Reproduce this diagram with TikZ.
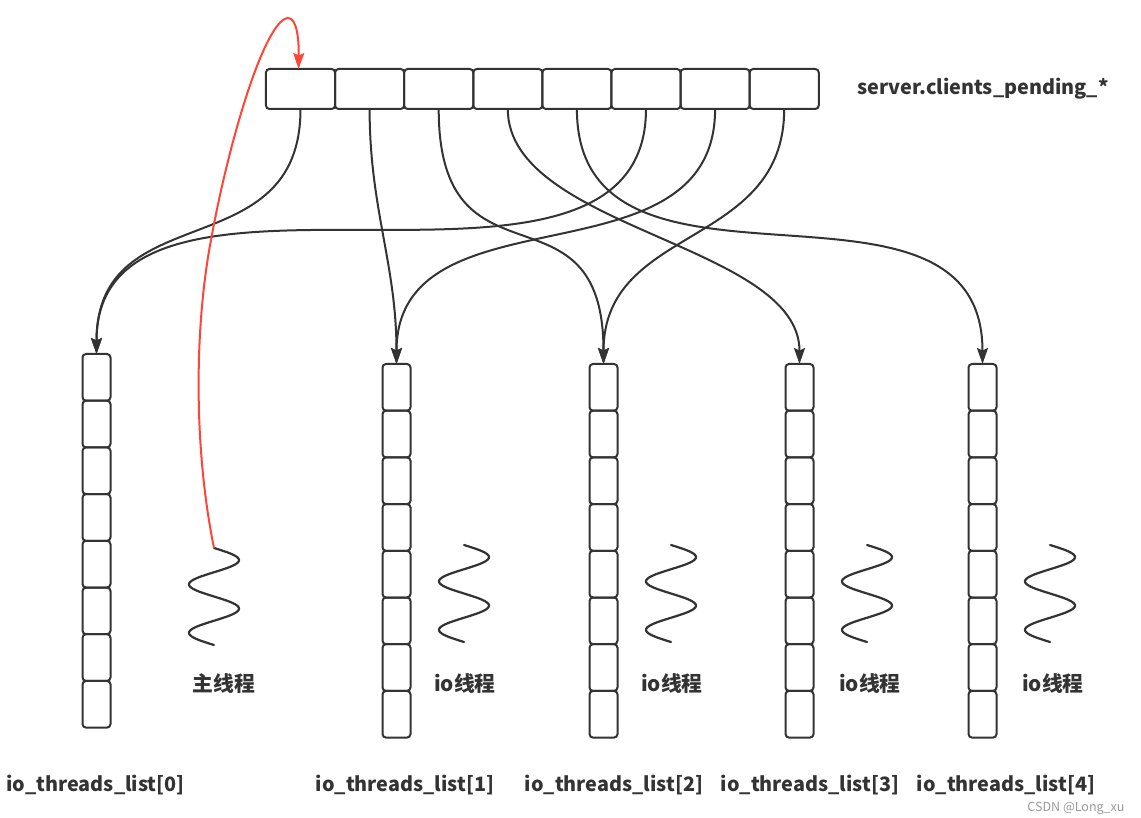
\documentclass[tikz,border=0pt]{standalone}
\usepackage{fontspec}
\setmainfont{Noto Sans CJK SC}
\usetikzlibrary{arrows.meta}
\definecolor{ink}{HTML}{333333}
\definecolor{redl}{HTML}{FF4538}
\definecolor{wm}{HTML}{9A9A9A}
\begin{document}
\begin{tikzpicture}[x=1pt,y=-1pt,
  cellh/.style={draw=ink, line width=2pt, rounded corners=3.5pt, minimum width=69.1pt, minimum height=40pt, inner sep=0pt, outer sep=0pt},
  cellv/.style={draw=ink, line width=2pt, rounded corners=3.5pt, minimum width=28pt, minimum height=46.7pt, inner sep=0pt, outer sep=0pt},
  conn/.style={draw=ink, line width=2pt, -{Stealth[length=16pt,width=11pt,inset=2.5pt]}},
  redconn/.style={draw=redl, line width=2pt, -{Stealth[length=16pt,width=11pt,inset=2.5pt]}},
  wave/.style={draw=ink, line width=2.2pt, line cap=round},
  lab/.style={text=ink, font=\fontsize{19.8}{22}\selectfont\bfseries, inner sep=0pt},
  cjklab/.style={text=ink, font=\fontsize{20.8}{23}\selectfont\bfseries, inner sep=0pt},
  wmark/.style={text=wm, font=\fontsize{12.5}{14}\selectfont, inner sep=0pt},
]
\fill[white] (0,0) rectangle (1141,818);
\useasboundingbox (0,0) rectangle (1141,818);

% top array
\foreach \i in {0,...,7}
  \node[cellh] (c\i) at ({300.5+69.1*\i},89) {};
\node[lab] (srv) at (983,89) {server.clients\_pending\_*};

% io_threads_list columns
\foreach \j/\x/\t in {0/96.5/354, 1/396.5/364, 2/603.5/364, 3/799.5/364, 4/982.5/364}
  \foreach \k in {0,...,7}
    \node[cellv] (L\j-\k) at (\x,{\t+23.35+46.7*\k}) {};

% waves
\draw[wave] plot[domain=0:720, samples=90, smooth] ({214+25*sin(\x)},{548+0.134722*\x});
\foreach \cx in {464,671,867,1050}
  \draw[wave] plot[domain=0:720, samples=90, smooth] ({\cx+25*sin(\x)},{545+0.134722*\x});
\coordinate (mws) at (214,548);

% labels
\node[cjklab] (tmain) at (224,684) {主线程};
\node[cjklab] (t1) at (465,684) {io线程};
\node[cjklab] (t2) at (672,684) {io线程};
\node[cjklab] (t3) at (870,684) {io线程};
\node[cjklab] (t4) at (1053,684) {io线程};
\node[lab] (b0) at (95.5,785) {io\_threads\_list[0]};
\node[lab] (b1) at (405,785) {io\_threads\_list[1]};
\node[lab] (b2) at (614,785) {io\_threads\_list[2]};
\node[lab] (b3) at (810,785) {io\_threads\_list[3]};
\node[lab] (b4) at (1006,785) {io\_threads\_list[4]};
\node[wmark] (wmk) at (1076,808) {CSDN @Long\_xu};

% connectors
\draw[conn] (c0.south) .. controls +(0,160) and +(0,-160) .. (L0-0.north);
\draw[conn] (c1.south) .. controls +(0,100) and +(0,-100) .. (L1-0.north);
\draw[conn] (c2.south) .. controls +(0,190) and +(0,-190) .. (L2-0.north);
\draw[conn] (c3.south) .. controls +(0,120) and +(0,-120) .. (L3-0.north);
\draw[conn] (c4.south) .. controls +(0,220) and +(0,-220) .. (L4-0.north);
\draw[conn] (c5.south) .. controls +(0,240) and +(0,-240) .. (L0-0.north);
\draw[conn] (c6.south) .. controls +(0,180) and +(0,-180) .. (L1-0.north);
\draw[conn] (c7.south) .. controls +(0,140) and +(0,-140) .. (L2-0.north);

% red connector from main thread
\draw[redconn] (mws) .. controls (194,450) and (194,330) .. (211,240)
  .. controls (229,140) and (265,20) .. (288,18)
  .. controls (297,18) and (299,40) .. ([xshift=-2pt]c0.north);
\end{tikzpicture}
\end{document}
